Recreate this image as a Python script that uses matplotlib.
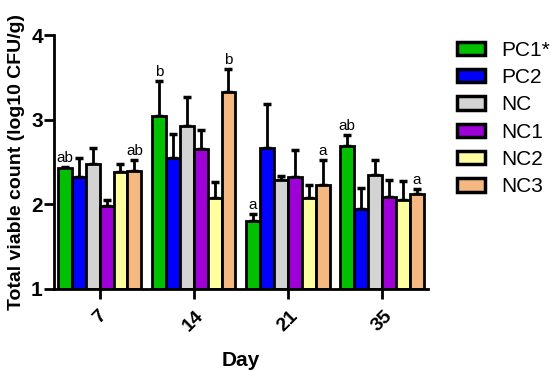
import numpy as np
import matplotlib.pyplot as plt

plt.rcParams['font.family'] = ['Liberation Sans', 'DejaVu Sans']

days = ['7', '14', '21', '35']
groups = ['PC1*', 'PC2', 'NC', 'NC1', 'NC2', 'NC3']
colors = ['#00c000', '#0000ff', '#d3d3d3', '#a000d8', '#ffffa0', '#f5b880']

# mean and upper sd per group, per day
means = {
    'PC1*': [2.43, 3.04, 1.80, 2.69],
    'PC2':  [2.32, 2.55, 2.67, 1.94],
    'NC':   [2.48, 2.93, 2.29, 2.35],
    'NC1':  [1.98, 2.66, 2.32, 2.09],
    'NC2':  [2.38, 2.08, 2.07, 2.05],
    'NC3':  [2.39, 3.33, 2.23, 2.12],
}
errs = {
    'PC1*': [0.01, 0.42, 0.09, 0.13],
    'PC2':  [0.23, 0.28, 0.52, 0.25],
    'NC':   [0.19, 0.34, 0.05, 0.18],
    'NC1':  [0.07, 0.22, 0.32, 0.20],
    'NC2':  [0.10, 0.18, 0.16, 0.23],
    'NC3':  [0.14, 0.27, 0.30, 0.06],
}
# significance letters: (day index, group, text)
letters = [(0, 'PC1*', 'ab'), (0, 'NC3', 'ab'), (1, 'PC1*', 'b'), (1, 'NC3', 'b'),
           (2, 'PC1*', 'a'), (2, 'NC3', 'a'), (3, 'PC1*', 'ab'), (3, 'NC3', 'a')]

fig = plt.figure(figsize=(5.5, 3.7), dpi=100)
ax = fig.add_axes([0.098, 0.219, 0.68, 0.686])

x = np.arange(len(days))
w = 0.148
for i, g in enumerate(groups):
    pos = x + (i - 2.5) * w
    ax.bar(pos, np.array(means[g]) - 1, w, bottom=1, color=colors[i],
           edgecolor='black', linewidth=2, label=g, zorder=2)
    ax.errorbar(pos, means[g], yerr=[np.zeros(4), errs[g]], fmt='none',
                ecolor='black', elinewidth=2, capsize=3, capthick=2.5, zorder=1)

for d, g, t in letters:
    i = groups.index(g)
    ax.text(x[d] + (i - 2.5) * w, means[g][d] + errs[g][d] + 0.02, t,
            ha='center', va='bottom', fontsize=11)

ax.set_xlim(-0.486, 3.49)
ax.set_ylim(1, 4)
ax.set_yticks([1, 2, 3, 4])
ax.set_xticks(x)
ax.set_xticklabels(days, rotation=45, fontweight='bold', fontsize=14)
for lab in ax.get_yticklabels():
    lab.set_fontweight('bold')
    lab.set_fontsize(15)
ax.tick_params(width=2, length=7)
ax.tick_params(axis='y', pad=1)
ax.tick_params(axis='x', pad=6)
for s in ['top', 'right']:
    ax.spines[s].set_visible(False)
for s in ['left', 'bottom']:
    ax.spines[s].set_linewidth(2)
ax.set_xlabel('Day', fontweight='bold', fontsize=15, labelpad=12)
ax.set_ylabel('Total viable count (log10 CFU/g)', fontweight='bold', fontsize=14, labelpad=4)

leg = fig.legend(loc='upper left', bbox_to_anchor=(0.83, 0.89), frameon=False,
                 fontsize=15, handlelength=1.35, handleheight=0.6, labelspacing=0.4,
                 handletextpad=0.8, borderpad=0, borderaxespad=0)
for h in leg.legend_handles:
    h.set_linewidth(2.5)

fig.savefig('out.png', dpi=100)
